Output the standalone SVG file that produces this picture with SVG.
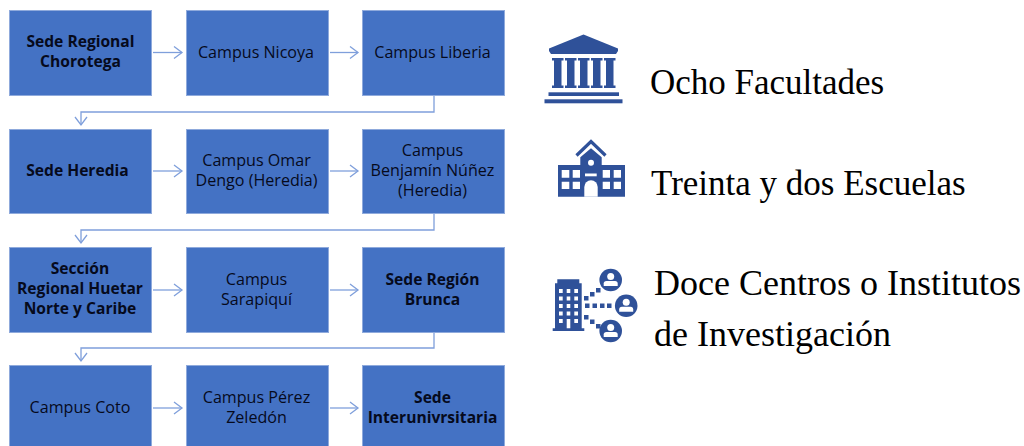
<svg xmlns="http://www.w3.org/2000/svg" width="1024" height="446" viewBox="0 0 1024 446">
<style>
.box{fill:#4472c4;stroke:#8faadc;stroke-width:1}
.t{font-family:"Open Sans","Noto Sans","Liberation Sans",sans-serif;font-size:16.1px;fill:#060a1c;text-anchor:middle}
.b{font-weight:700;font-size:15.6px}
.c{fill:none;stroke:#7f9fdb;stroke-width:1.3}
.s{font-family:"Liberation Serif","Times New Roman",serif;font-size:35px;fill:#000}
.l{font-size:36px}
.i{fill:#2f5199}
.w{fill:#fff}
</style>
<defs>
<marker id="a" markerUnits="userSpaceOnUse" markerWidth="12" markerHeight="14" refX="9" refY="7" orient="auto">
<path d="M1 1L9 7L1 13" fill="none" stroke="#7f9fdb" stroke-width="1.3"/>
</marker>
</defs>
<rect width="1024" height="446" fill="#fff"/>
<g id="connectors">
<path class="c" marker-end="url(#a)" d="M153 52.500H182"/>
<path class="c" marker-end="url(#a)" d="M330 52.500H358"/>
<path class="c" marker-end="url(#a)" d="M434 96V112H81V125"/>
<path class="c" marker-end="url(#a)" d="M153 171H182"/>
<path class="c" marker-end="url(#a)" d="M330 171H358"/>
<path class="c" marker-end="url(#a)" d="M434 214V230H81V243"/>
<path class="c" marker-end="url(#a)" d="M153 290H182"/>
<path class="c" marker-end="url(#a)" d="M330 290H358"/>
<path class="c" marker-end="url(#a)" d="M434 333V348H81V361"/>
<path class="c" marker-end="url(#a)" d="M153 408H182"/>
<path class="c" marker-end="url(#a)" d="M330 408H358"/>
</g>
<g id="n1"><rect class="box" x="9.500" y="10.500" width="142" height="85"/><text class="t b" x="80.500" y="47">Sede Regional</text><text class="t b" x="80.500" y="67">Chorotega</text></g>
<g id="n2"><rect class="box" x="186.500" y="10.500" width="142" height="85"/><text class="t" x="256" y="58">Campus Nicoya</text></g>
<g id="n3"><rect class="box" x="362.500" y="10.500" width="142" height="85"/><text class="t" x="432.500" y="58">Campus Liberia</text></g>
<g id="n4"><rect class="box" x="9.500" y="129.500" width="142" height="84"/><text class="t b" x="77.500" y="176">Sede Heredia</text></g>
<g id="n5"><rect class="box" x="186.500" y="129.500" width="142" height="84"/><text class="t" x="256.500" y="166">Campus Omar</text><text class="t" x="256.500" y="186">Dengo (Heredia)</text></g>
<g id="n6"><rect class="box" x="362.500" y="129.500" width="142" height="84"/><text class="t" x="432.500" y="156">Campus</text><text class="t" x="432.500" y="176">Benjamín Núñez</text><text class="t" x="432.500" y="196">(Heredia)</text></g>
<g id="n7"><rect class="box" x="9.500" y="247.500" width="142" height="85"/><text class="t b" x="80" y="274">Sección</text><text class="t b" x="80" y="294">Regional Huetar</text><text class="t b" x="80" y="314">Norte y Caribe</text></g>
<g id="n8"><rect class="box" x="186.500" y="247.500" width="142" height="85"/><text class="t" x="256.500" y="285">Campus</text><text class="t" x="256.500" y="305">Sarapiquí</text></g>
<g id="n9"><rect class="box" x="362.500" y="247.500" width="142" height="85"/><text class="t b" x="432.500" y="285">Sede Región</text><text class="t b" x="432.500" y="305">Brunca</text></g>
<g id="n10"><rect class="box" x="9.500" y="365.500" width="142" height="90"/><text class="t" x="80" y="413">Campus Coto</text></g>
<g id="n11"><rect class="box" x="186.500" y="365.500" width="142" height="90"/><text class="t" x="256.500" y="403">Campus Pérez</text><text class="t" x="256.500" y="423">Zeledón</text></g>
<g id="n12"><rect class="box" x="362.500" y="365.500" width="142" height="90"/><text class="t b" x="432.500" y="403">Sede</text><text class="t b" x="432.500" y="423">Interunivrsitaria</text></g>
<g id="icon-faculties" class="i">
<path d="M583.500 34.500L618 48.500V51L616 54H551L549 51V48.500Z"/>
<path id="col" d="M552 58H563.500V60.500H561.500V85.500H563.500V88H552V85.500H554V60.500H552Z"/>
<use href="#col" x="13"/><use href="#col" x="26"/><use href="#col" x="39"/><use href="#col" x="52"/>
<rect x="548.500" y="92.300" width="70.500" height="3.700"/>
<rect x="544.500" y="99.300" width="78" height="4"/>
</g>
<g id="icon-schools">
<path d="M576.500 155.500L591 141.500L605.500 155.500" fill="none" stroke="#2f5199" stroke-width="3.200"/>
<path class="i" d="M591 148.300L601.700 157.300V165H625V196.700H558V165H580.300V157.300Z"/>
<circle class="w" cx="591" cy="162.700" r="3"/>
<rect class="w" x="585" y="173.500" width="11.700" height="2.800"/>
<path class="w" d="M584.300 196.700V187A6.700 6.700 0 0 1 597.700 187V196.700Z"/>
<path class="w" d="M561.700 170h7.600v7.700h-7.600zM572.700 170h7.300v7.700h-7.300zM561.700 181.700h7.600v7.300h-7.600zM572.700 181.700h7.300v7.300h-7.300zM602.700 170h7.300v7.700h-7.300zM613.700 170h7.300v7.700h-7.300zM602.700 181.700h7.300v7.300h-7.300zM613.700 181.700h7.300v7.300h-7.300z"/>
</g>
<g id="icon-centers">
<path class="i" d="M557.300 279.300H579.300V283.300H581.700V328.300H584.300V331H552.700V328.300H555V283.300H557.300Z"/>
<path class="w" d="M559 289h3.700v3.900h-3.700zM566.700 289h3.600v3.900h-3.600zM574.300 289h3.700v3.900h-3.700zM559 296.500h3.700v3.900h-3.700zM566.700 296.500h3.600v3.900h-3.600zM574.300 296.500h3.700v3.900h-3.700zM559 304h3.700v3.900h-3.700zM566.700 304h3.600v3.900h-3.600zM574.300 304h3.700v3.900h-3.700zM559 311.500h3.700v3.900h-3.700zM566.700 311.500h3.600v3.900h-3.600zM574.300 311.500h3.700v3.900h-3.700zM559 319h3.700v3.900h-3.700zM574.300 319h3.700v3.900h-3.700zM566.700 319h3.600v9.300h-3.600z"/>
<path class="i" d="M584 296h4.500v4.500h-4.500zM590 292h4.500v4.500h-4.500zM596 288h4.500v4.500h-4.500zM585 303.500h4.500v4.500h-4.500zM592.500 303.500h4.500v4.500h-4.500zM600 303.500h4.500v4.500h-4.500zM607 303.500h4.500v4.500h-4.500zM584 315h4.500v4.500h-4.500zM590 319.500h4.500v4.500h-4.500zM596 324h4.500v4.500h-4.500z"/>
<g id="person"><circle class="i" cx="610.700" cy="280" r="11.300"/><circle class="w" cx="610.700" cy="276.500" r="3.500"/><path class="w" d="M603.700 286V283.500Q603.700 281 606.500 281H615Q617.700 281 617.700 283.500V286Z"/></g>
<use href="#person" x="15.500" y="25.700"/>
<use href="#person" y="51"/>
</g>
<g id="legend">
<text class="s" x="650" y="94">Ocho Facultades</text>
<text class="s" x="651" y="195">Treinta y dos Escuelas</text>
<text class="s l" x="654" y="295">Doce Centros o Institutos</text>
<text class="s l" x="654" y="346">de Investigación</text>
</g>
</svg>
